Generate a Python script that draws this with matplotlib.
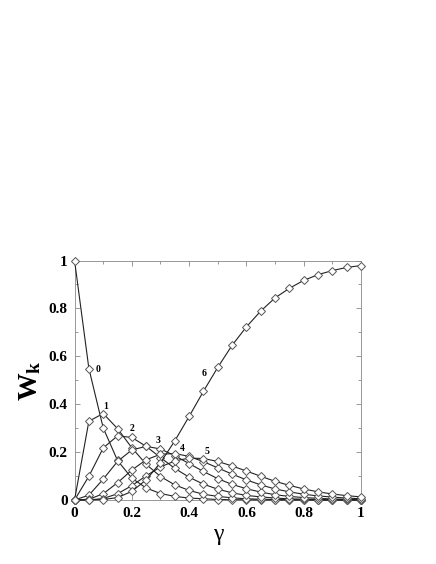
import matplotlib
matplotlib.use("Agg")
import matplotlib.pyplot as plt
from matplotlib.ticker import MultipleLocator

plt.rcParams['font.family'] = ['Liberation Serif', 'DejaVu Serif']
plt.rcParams['mathtext.fontset'] = 'custom'
plt.rcParams['mathtext.rm'] = 'Liberation Serif'
plt.rcParams['mathtext.bf'] = 'Liberation Serif:bold'
plt.rcParams['mathtext.it'] = 'Liberation Serif:italic'

# gamma sampled every 0.05
gamma = [0.0, 0.05, 0.1, 0.15, 0.2, 0.25, 0.3, 0.35, 0.4, 0.45, 0.5,
         0.55, 0.6, 0.65, 0.7, 0.75, 0.8, 0.85, 0.9, 0.95, 1.0]

w0 = [1.0, 0.549, 0.301, 0.165, 0.091, 0.050, 0.027, 0.015, 0.008, 0.005, 0.002,
      0.001, 0.001, 0.0, 0.0, 0.0, 0.0, 0.0, 0.0, 0.0, 0.0]
w1 = [0.0, 0.329, 0.361, 0.298, 0.218, 0.149, 0.098, 0.063, 0.040, 0.024, 0.015,
      0.009, 0.005, 0.003, 0.002, 0.001, 0.001, 0.0, 0.0, 0.0, 0.0]
w2 = [0.0, 0.099, 0.217, 0.268, 0.261, 0.224, 0.177, 0.132, 0.095, 0.066, 0.045,
      0.030, 0.019, 0.013, 0.008, 0.005, 0.003, 0.002, 0.001, 0.001, 0.0]
w3 = [0.0, 0.020, 0.087, 0.161, 0.209, 0.224, 0.213, 0.185, 0.152, 0.119, 0.089,
      0.065, 0.047, 0.033, 0.022, 0.015, 0.010, 0.007, 0.004, 0.003, 0.002]
w4 = [0.0, 0.003, 0.026, 0.072, 0.125, 0.168, 0.191, 0.194, 0.182, 0.160, 0.134,
      0.108, 0.084, 0.063, 0.046, 0.034, 0.024, 0.017, 0.012, 0.008, 0.005]
w5 = [0.0, 0.0, 0.006, 0.026, 0.060, 0.101, 0.138, 0.163, 0.175, 0.173, 0.161,
      0.142, 0.121, 0.099, 0.078, 0.061, 0.046, 0.034, 0.025, 0.018, 0.013]
w6 = [0.0, 0.0, 0.002, 0.010, 0.036, 0.084, 0.156, 0.247, 0.349, 0.454, 0.554,
      0.646, 0.723, 0.789, 0.844, 0.884, 0.917, 0.941, 0.958, 0.971, 0.979]

series = [w0, w1, w2, w3, w4, w5, w6]
curve_labels = ['0', '1', '2', '3', '4', '5', '6']
label_pos = [(0.082, 0.545), (0.11, 0.39), (0.2, 0.30), (0.291, 0.248),
             (0.377, 0.216), (0.464, 0.203), (0.452, 0.528)]

fig = plt.figure(figsize=(4.36, 5.64), dpi=100)
ax = fig.add_axes([0.171, 0.1135, 0.657, 0.4246])

for w in series:
    ax.plot(gamma, w, color='#222222', lw=0.8, marker='D', markersize=4.0,
            markerfacecolor='white', markeredgecolor='#555555', markeredgewidth=0.7,
            clip_on=False, zorder=3)

for lab, (lx, ly) in zip(curve_labels, label_pos):
    ax.text(lx, ly, lab, fontsize=7, fontweight='bold', ha='center', va='center')

ax.set_xlim(0, 1)
ax.set_ylim(0, 1)
ax.set_xticks([0, 0.2, 0.4, 0.6, 0.8, 1.0])
ax.set_xticklabels(['0', '0.2', '0.4', '0.6', '0.8', '1'])
ax.set_yticks([0, 0.2, 0.4, 0.6, 0.8, 1.0])
ax.set_yticklabels(['0', '0.2', '0.4', '0.6', '0.8', '1'])
ax.xaxis.set_minor_locator(MultipleLocator(0.1))
ax.yaxis.set_minor_locator(MultipleLocator(0.1))
ax.tick_params(which='both', direction='in', top=True, right=True,
               color='#888888', width=0.6)
ax.tick_params(which='major', length=3.5, labelsize=11, pad=5)
ax.tick_params(which='minor', length=2)
for lbl in ax.get_xticklabels() + ax.get_yticklabels():
    lbl.set_fontweight('bold')
for sp in ax.spines.values():
    sp.set_color('#888888')
    sp.set_linewidth(0.6)

ax.set_xlabel('γ', fontsize=17, labelpad=3)
ax.set_ylabel(r'$\mathbf{W}_{\mathbf{k}}$', fontsize=20, labelpad=4)

fig.savefig('out.png', dpi=100)
